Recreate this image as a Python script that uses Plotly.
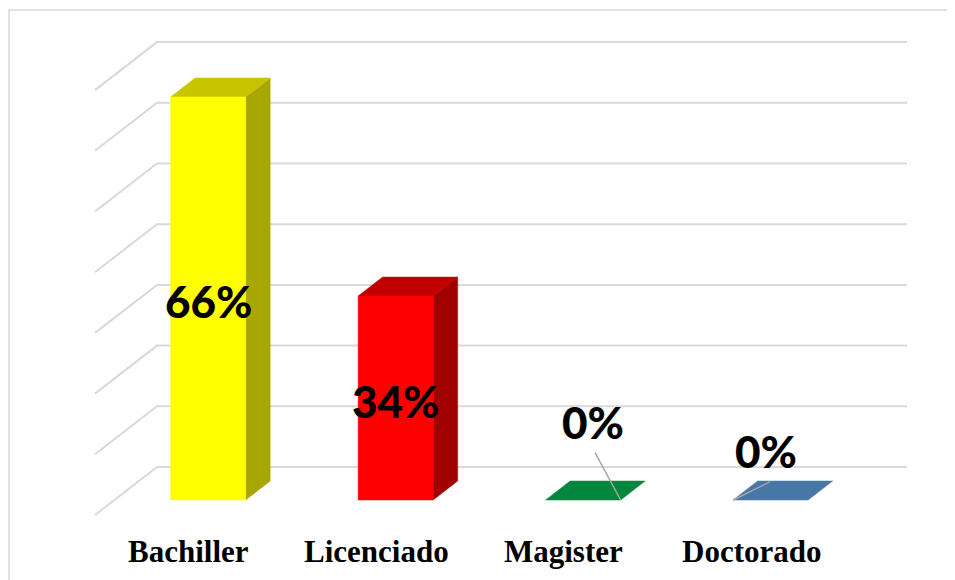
import plotly.graph_objects as go

# ---------------- data ----------------
categories = ["Bachiller", "Licenciado", "Magister", "Doctorado"]
values = [66.4, 33.6, 0.0, 0.0]          # percent
grid_ticks = [0, 10, 20, 30, 40, 50, 60, 70]

front_colors = ["#FFFF00", "#FF0000", "#00873E", "#4677A6"]
top_colors = ["#C9C400", "#C00000", "#00873E", "#4677A6"]
side_colors = ["#A8A600", "#A00000", "#006A30", "#355C82"]

# ---------------- geometry / style ----------------
PAGE_MARGIN = 8          # default body margin of the html page
W, H = 955 - PAGE_MARGIN, 580 - PAGE_MARGIN
PX_PER_CAT = 187.5       # pixels per category slot
PX_PER_PCT = 6.07        # pixels per percent
BACK_X0_PX = 157 - PAGE_MARGIN   # pixel x of back wall left edge (x = -0.5)
BACK_Y0_PX = 467 - PAGE_MARGIN   # pixel y of 0% on back wall

DEPTH_DX = 62 / PX_PER_CAT   # full floor depth offset (x, data units)
DEPTH_DY = 48 / PX_PER_PCT   # full floor depth offset (y, data units)
Z_FRONT, Z_BACK = 0.3125, 0.708
HALF_W = 0.2
GRID_COLOR = "#D9D9D9"

x_range = [-0.5 - BACK_X0_PX / PX_PER_CAT, -0.5 + (W - BACK_X0_PX) / PX_PER_CAT]
y_range = [(BACK_Y0_PX - H) / PX_PER_PCT, BACK_Y0_PX / PX_PER_PCT]


def proj(x, y, z):
    s = 1 - z
    return x - s * DEPTH_DX, y - s * DEPTH_DY


fig = go.Figure()

# gridlines: left wall diagonals + back wall horizontals
gx, gy = [], []
n = len(categories)
for t in grid_ticks:
    fx, fy = proj(-0.5, t, 0)
    gx += [fx, -0.5, n - 0.5, None]
    gy += [fy, t, t, None]
fig.add_trace(go.Scatter(x=gx, y=gy, mode="lines",
                         line=dict(color=GRID_COLOR, width=2),
                         hoverinfo="skip"))


def poly(pts, color):
    xs = [p[0] for p in pts] + [pts[0][0]]
    ys = [p[1] for p in pts] + [pts[0][1]]
    fig.add_trace(go.Scatter(x=xs, y=ys, mode="lines", fill="toself",
                             fillcolor=color, line=dict(color=color, width=0.5),
                             hoverinfo="skip"))


for i, v in enumerate(values):
    x0, x1 = i - HALF_W, i + HALF_W
    if v > 0:
        poly([proj(x1, 0, Z_FRONT), proj(x1, 0, Z_BACK),
              proj(x1, v, Z_BACK), proj(x1, v, Z_FRONT)], side_colors[i])
    poly([proj(x0, v, Z_FRONT), proj(x1, v, Z_FRONT),
          proj(x1, v, Z_BACK), proj(x0, v, Z_BACK)], top_colors[i])
    if v > 0:
        poly([proj(x0, 0, Z_FRONT), proj(x1, 0, Z_FRONT),
              proj(x1, v, Z_FRONT), proj(x0, v, Z_FRONT)], front_colors[i])

# leader lines for the zero-value labels (pixel offsets from a bar corner)
leaders = {2: (HALF_W, -25.6, 47.3), 3: (-HALF_W, 37.0, 18.3)}
for i, (corner, dxp, dyp) in leaders.items():
    ax_, ay_ = proj(i + corner, values[i], Z_FRONT)
    fig.add_trace(go.Scatter(x=[ax_, ax_ + dxp / PX_PER_CAT],
                             y=[ay_, ay_ + dyp / PX_PER_PCT],
                             mode="lines", line=dict(color="#A6A6A6", width=1.5),
                             hoverinfo="skip"))

annotations = []
# data labels
label_shift = {2: (10, 78), 3: (-5, 49)}
for i, v in enumerate(values):
    cx, cy = proj(i, v / 2, Z_FRONT)
    xs, ys = label_shift.get(i, (0, -3))
    annotations.append(dict(x=cx, y=cy, text=f"{v:.0f}%", showarrow=False,
                            xanchor="center", yanchor="middle",
                            xshift=xs, yshift=ys,
                            font=dict(family="Lato", size=44, color="#000000",
                                      weight=900)))
# category labels at the front edge of the floor
for i, c in enumerate(categories):
    lx, ly = proj(i, 0, 0)
    annotations.append(dict(x=lx, y=ly, text=f"<b>{c}</b>", showarrow=False,
                            xanchor="center", yanchor="middle", yshift=-36,
                            font=dict(family="Liberation Serif", size=31,
                                      color="#000000")))

fig.update_layout(
    width=W, height=H, autosize=False,
    margin=dict(l=0, r=0, t=0, b=0),
    paper_bgcolor="white", plot_bgcolor="white",
    showlegend=False, hovermode=False,
    xaxis=dict(range=x_range, visible=False, fixedrange=True),
    yaxis=dict(range=y_range, visible=False, fixedrange=True),
    annotations=annotations,
    shapes=[dict(type="rect", xref="paper", yref="paper",
                 x0=1 / W, x1=1.02, y0=-0.02, y1=1 - 2 / H,
                 line=dict(color=GRID_COLOR, width=1.5), layer="below")],
)

fig.write_html("out.html")
